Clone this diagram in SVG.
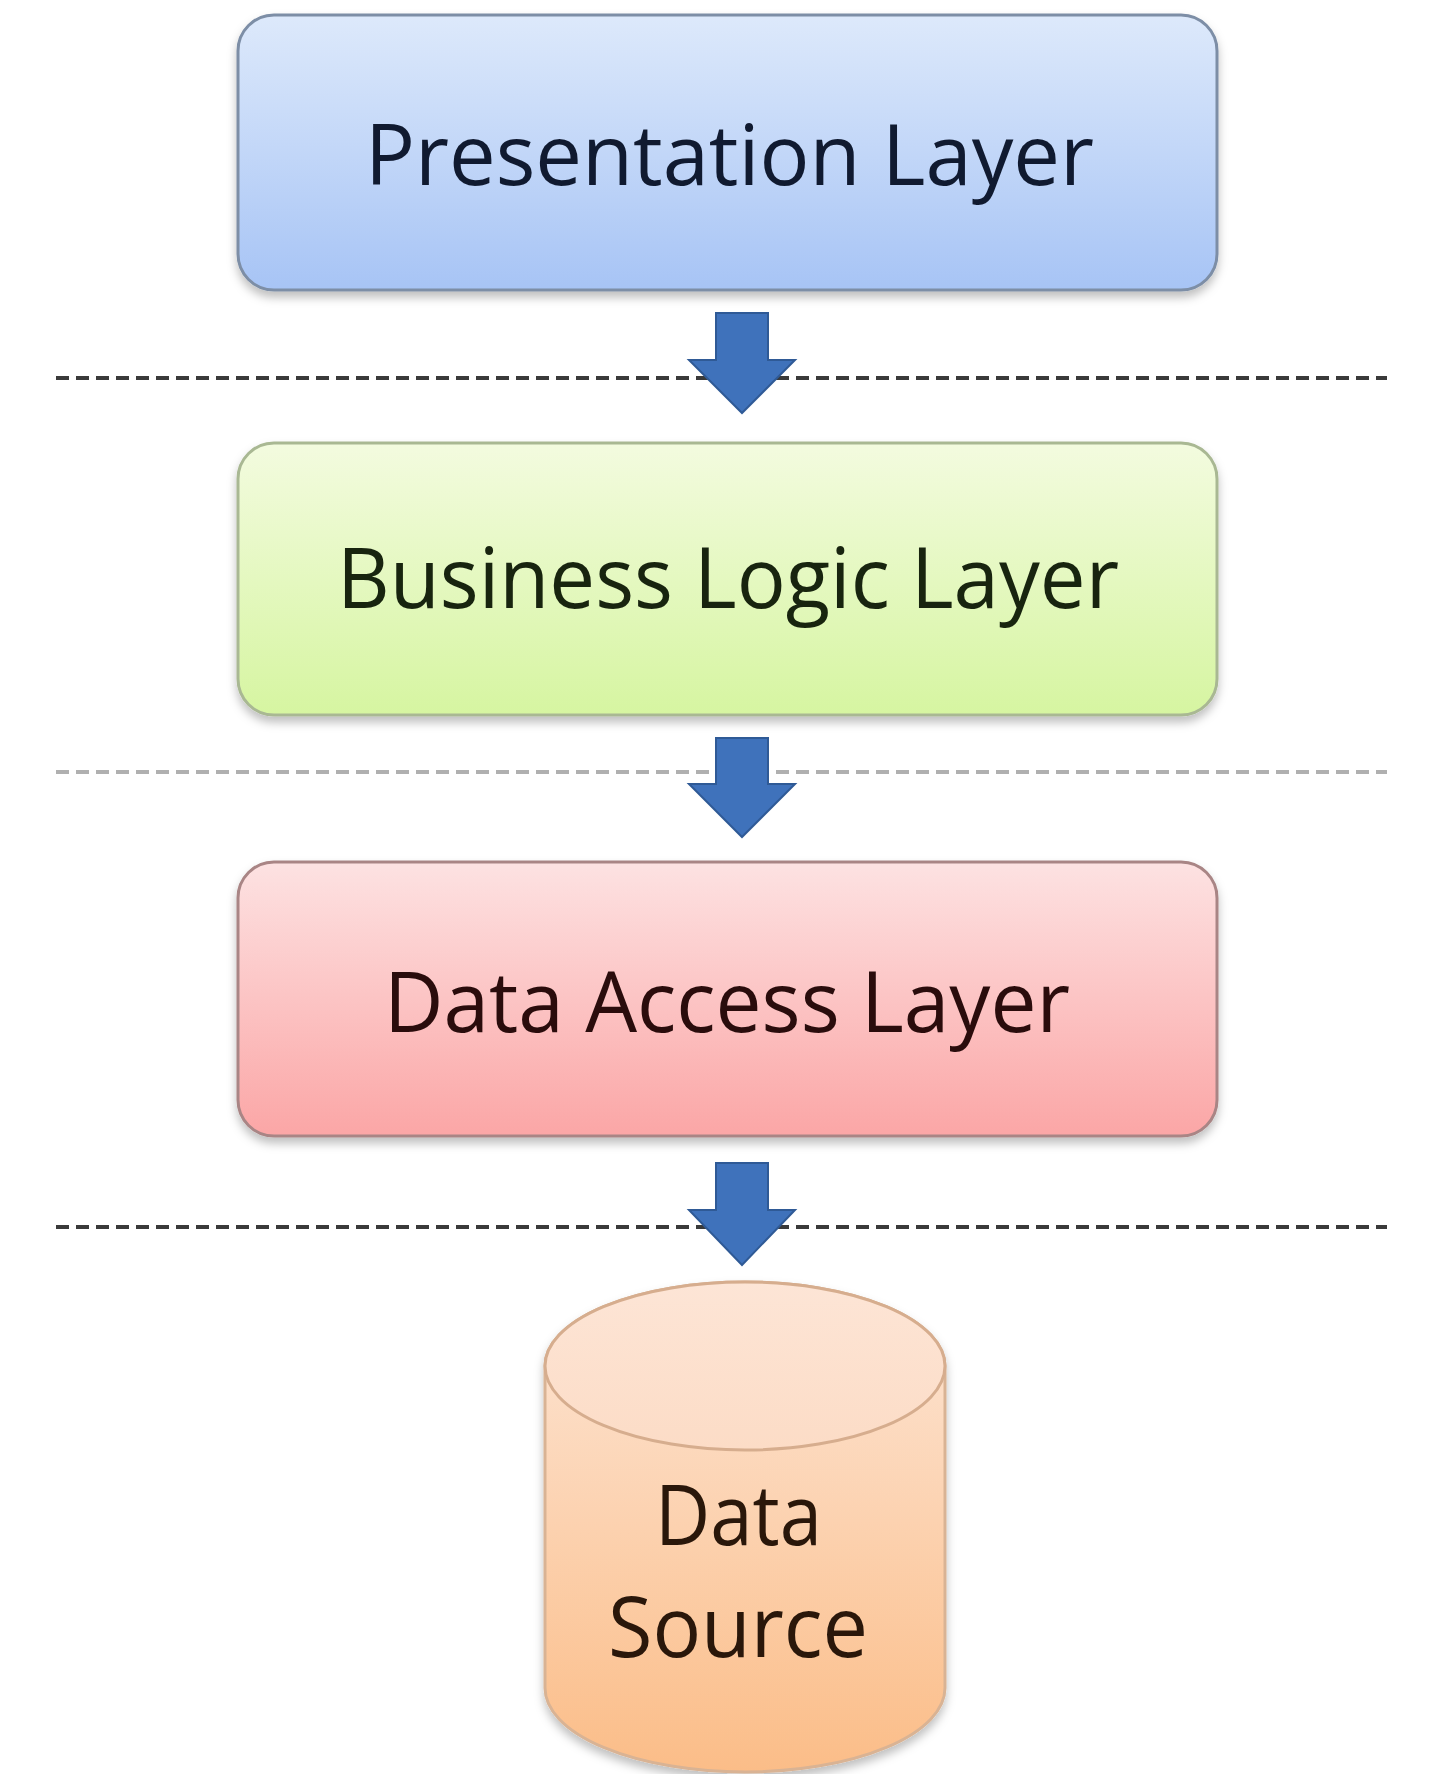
<svg xmlns="http://www.w3.org/2000/svg" width="1441" height="1774" viewBox="0 0 1441 1774">
<style>
.lbl{font-family:"Open Sans","Liberation Sans",sans-serif;font-size:84px;}
.box{stroke-width:3;}
.sep{stroke-width:4;fill:none;stroke-dasharray:13 7;}
.arrow{fill:#3f72bb;stroke:#2f5a96;stroke-width:2;stroke-linejoin:miter;}
</style>
<defs>
<linearGradient id="gBlue" x1="0" y1="0" x2="0" y2="1"><stop offset="0" stop-color="#dde9fb"/><stop offset="1" stop-color="#a7c4f5"/></linearGradient>
<linearGradient id="gGreen" x1="0" y1="0" x2="0" y2="1"><stop offset="0" stop-color="#f3fbdf"/><stop offset="1" stop-color="#d6f5a1"/></linearGradient>
<linearGradient id="gRed" x1="0" y1="0" x2="0" y2="1"><stop offset="0" stop-color="#fde2e2"/><stop offset="1" stop-color="#fba6a6"/></linearGradient>
<linearGradient id="gOrange" x1="0" y1="0" x2="0" y2="1"><stop offset="0" stop-color="#fde6d6"/><stop offset="1" stop-color="#fbbd88"/></linearGradient>
<linearGradient id="gTop" x1="0" y1="0" x2="0" y2="1"><stop offset="0" stop-color="#fde5d6"/><stop offset="1" stop-color="#fcdcc6"/></linearGradient>
<filter id="sh" x="-5%" y="-10%" width="110%" height="125%"><feDropShadow dx="0" dy="6" stdDeviation="5" flood-color="#000" flood-opacity="0.25"/></filter>
</defs>
<g id="connectors">
<line class="sep" x1="56" y1="378" x2="1387" y2="378" stroke="#3a3a3a"/>
<line class="sep" x1="56" y1="772" x2="1387" y2="772" stroke="#b0b0b0"/>
<line class="sep" x1="56" y1="1227" x2="1387" y2="1227" stroke="#3a3a3a"/>
<polygon class="arrow" points="716,313 768,313 768,360 795,360 742,413 689,360 716,360"/>
<polygon class="arrow" points="716,738 768,738 768,784 795,784 742,837 689,784 716,784"/>
<polygon class="arrow" points="716,1163 768,1163 768,1210 795,1210 742,1265 689,1210 716,1210"/>
</g>
<g id="presentation">
<rect class="box" x="238" y="15" width="979" height="275" rx="36" fill="url(#gBlue)" stroke="#7d8ea6" filter="url(#sh)"/>
<text class="lbl" x="365" y="185" textLength="729" lengthAdjust="spacingAndGlyphs" fill="#101a30">Presentation Layer</text>
</g>
<g id="business">
<rect class="box" x="238" y="443" width="979" height="272" rx="36" fill="url(#gGreen)" stroke="#a9b893" filter="url(#sh)"/>
<text class="lbl" x="337" y="608" textLength="782" lengthAdjust="spacingAndGlyphs" fill="#18240f">Business Logic Layer</text>
</g>
<g id="dataaccess">
<rect class="box" x="238" y="862" width="979" height="274" rx="36" fill="url(#gRed)" stroke="#a98585" filter="url(#sh)"/>
<text class="lbl" x="384" y="1032" textLength="686" lengthAdjust="spacingAndGlyphs" fill="#2a0c0c">Data Access Layer</text>
</g>
<g id="datasource">
<path d="M545,1366 A200,84 0 0 1 945,1366 L945,1688 A200,84 0 0 1 545,1688 Z" fill="url(#gOrange)" stroke="#d9b394" stroke-width="3" filter="url(#sh)"/>
<ellipse cx="745" cy="1366" rx="200" ry="84" fill="url(#gTop)" stroke="#d6ad8e" stroke-width="3"/>
<text class="lbl" x="655" y="1545" textLength="167" lengthAdjust="spacingAndGlyphs" fill="#2a170a">Data</text>
<text class="lbl" x="608" y="1657" textLength="260" lengthAdjust="spacingAndGlyphs" fill="#2a170a">Source</text>
</g>
</svg>
